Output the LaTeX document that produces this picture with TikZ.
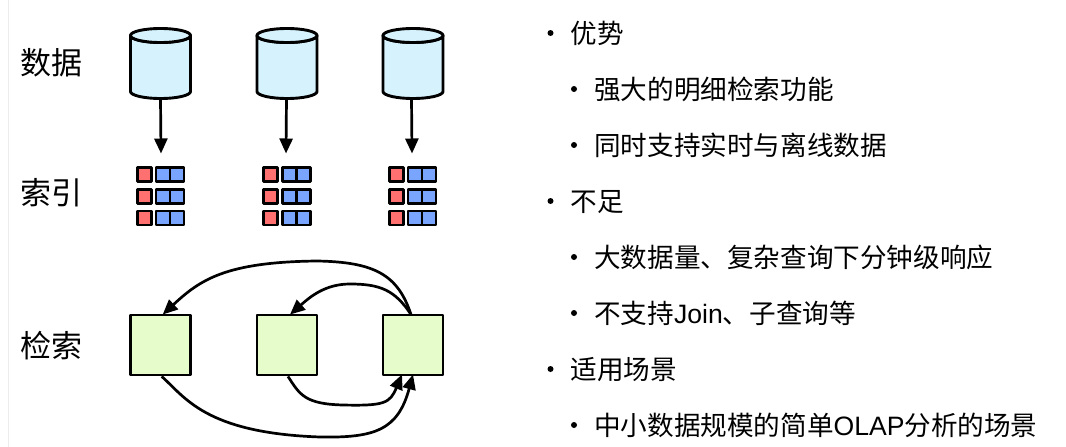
\documentclass[tikz,border=0pt]{standalone}
\usepackage{fontspec}
\setmainfont{Noto Sans CJK SC}
\newfontfamily\latinfont{Liberation Sans}
\usetikzlibrary{arrows.meta}
\definecolor{cylfill}{HTML}{D6F3FD}
\definecolor{cellred}{HTML}{FF7070}
\definecolor{cellblue}{HTML}{7AA5FF}
\definecolor{boxgreen}{HTML}{E6FCCB}
\tikzset{
  outline/.style={draw=black,line width=2.9pt,line join=round},
  flow/.style={draw=black,line width=2.7pt,-{Triangle[length=15pt,width=13pt]}},
  sidelabel/.style={anchor=base west,inner sep=0pt,font=\fontsize{31}{36}\selectfont},
  item/.style={anchor=base west,inner sep=0pt,font=\fontsize{26.6}{30}\selectfont},
  dot/.style={circle,fill=black,inner sep=0pt,minimum size=6pt},
  redcell/.style={outline,fill=cellred,minimum width=14pt,minimum height=14pt,inner sep=0pt},
  bluecell/.style={outline,fill=cellblue,minimum width=14pt,minimum height=14pt,inner sep=0pt},
  stagebox/.style={outline,fill=boxgreen,minimum width=60pt,minimum height=60pt,inner sep=0pt},
}
\begin{document}
\begin{tikzpicture}[x=1pt,y=-1pt]
\useasboundingbox (0,0) rectangle (1066,447);
\fill[white] (0,0) rectangle (1066,447);
\draw[black!7,line width=1pt] (8.5,0) -- (8.5,447);

\node[sidelabel] (l1) at (20,74) {数据};
\node[sidelabel] (l2) at (20,204) {索引};
\node[sidelabel] (l3) at (20,357) {检索};

% cylinders
\foreach \n/\x in {1/130.5,2/257,3/383}{
  \path[outline,fill=cylfill] (\x,35.5) -- (\x,91.5) arc[start angle=180,end angle=0,x radius=30,y radius=7]
     -- (\x+60,35.5) arc[start angle=0,end angle=180,x radius=30,y radius=7] -- cycle;
  \path[outline,fill=cylfill] (\x+30,35.5) ellipse[x radius=30,y radius=7];
}
\coordinate (d1) at (160.5,98);
\coordinate (d2) at (286.5,98);
\coordinate (d3) at (411.5,98);

% index blocks
\foreach \g/\x in {1/137,2/263.2,3/389}{
  \foreach \r/\y in {1/174.8,2/196.5,3/218}{
    \node[redcell] (r\g\r) at (\x+7.5,\y) {};
    \node[bluecell] (a\g\r) at (\x+26,\y) {};
    \node[bluecell] (b\g\r) at (\x+40,\y) {};
  }
}
\coordinate (i1) at (161,153.5);
\coordinate (i2) at (286,153.5);
\coordinate (i3) at (412,153.5);
\draw[flow] (d1) -- (i1);
\draw[flow] (d2) -- (i2);
\draw[flow] (d3) -- (i3);

% query boxes
\node[stagebox] (q1) at (160.7,345) {};
\node[stagebox] (q2) at (287,345) {};
\node[stagebox] (q3) at (413,345) {};

\coordinate (qs) at ([xshift=-2pt,yshift=-1pt]q3.north);
\draw[flow] (qs) .. controls (398,275) and (375,262) .. (317,261)
   .. controls (225,262) and (200,280) .. ([xshift=2pt,yshift=-1pt]q1.north);
\draw[flow] (qs) .. controls (395,290) and (380,284) .. (350,284)
   .. controls (325,284) and (310,297) .. ([xshift=3pt,yshift=-1pt]q2.north);
\draw[flow] ([xshift=1pt]q1.south) .. controls (185,397) and (205,433) .. (320,437)
   .. controls (375,438) and (398,430) .. ([yshift=2pt]q3.south);
\draw[flow] ([xshift=1pt]q2.south) .. controls (300,395) and (305,404) .. (343,405)
   .. controls (385,406) and (390,403) .. ([xshift=-11pt,yshift=2pt]q3.south);

% list
\foreach \n/\x/\y in {1/550.5/33,2/574/89,3/574/145,4/550.5/201,5/574/257,6/574/313,7/550.5/369,8/574/425}{
  \node[dot] (dot\n) at (\x,\y) {};
}
\node[item] (t1) at (570.5,43) {优势};
\node[item] (t2) at (594,99) {强大的明细检索功能};
\node[item] (t3) at (594,155) {同时支持实时与离线数据};
\node[item] (t4) at (570.5,211) {不足};
\node[item] (t5) at (594,267) {大数据量、复杂查询下分钟级响应};
\node[item] (t6) at (594,323) {不支持{\latinfont Join}、子查询等};
\node[item] (t7) at (570.5,379) {适用场景};
\node[item] (t8) at (594,435) {中小数据规模的简单{\latinfont OLAP}分析的场景};
\end{tikzpicture}
\end{document}
